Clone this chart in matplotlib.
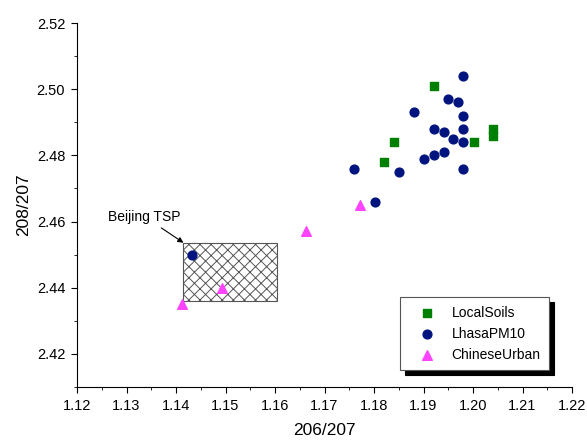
import numpy as np
import matplotlib
matplotlib.use('Agg')
import matplotlib.pyplot as plt
from matplotlib.patches import Rectangle
from matplotlib.ticker import MultipleLocator, FormatStrFormatter

plt.rcParams['font.family'] = ['Liberation Sans', 'DejaVu Sans']
plt.rcParams['hatch.color'] = '#555555'
plt.rcParams['hatch.linewidth'] = 0.7

# 206/207 vs 208/207 ratios
soils_x = [1.1921, 1.1840, 1.1820, 1.2001, 1.2040, 1.2040]
soils_y = [2.501, 2.484, 2.478, 2.484, 2.488, 2.486]

lhasa_x = [1.1980, 1.1950, 1.1970, 1.1881, 1.1980, 1.1921, 1.1941, 1.1980,
           1.1960, 1.1980, 1.1941, 1.1921, 1.1900, 1.1760, 1.1980, 1.1850,
           1.1801, 1.1432]
lhasa_y = [2.504, 2.497, 2.496, 2.493, 2.492, 2.488, 2.487, 2.488,
           2.485, 2.484, 2.481, 2.480, 2.479, 2.476, 2.476, 2.475,
           2.466, 2.450]

urban_x = [1.1771, 1.1663, 1.1492, 1.1412]
urban_y = [2.465, 2.457, 2.440, 2.435]

# Beijing TSP range
tsp_x = (1.1415, 1.1603)
tsp_y = (2.436, 2.4536)

fig = plt.figure(figsize=(5.87, 4.41), dpi=100)
ax = fig.add_axes([0.1312, 0.1224, 0.8433, 0.8254])

ax.add_patch(Rectangle((tsp_x[0], tsp_y[0]), tsp_x[1] - tsp_x[0], tsp_y[1] - tsp_y[0],
                       facecolor='white', edgecolor='#555555', hatch='xxx', lw=0.8, zorder=1))

ax.scatter(soils_x, soils_y, marker='s', s=26, color='#008000', label='LocalSoils', zorder=3)
ax.scatter(lhasa_x, lhasa_y, marker='o', s=40, color='#00147F', label='LhasaPM10', zorder=3)
ax.scatter(urban_x, urban_y, marker='^', s=48, color='#FF44FF', label='ChineseUrban', zorder=3)

ax.annotate('Beijing TSP', xy=(tsp_x[0], tsp_y[1]), xytext=(1.1263, 2.4615),
            fontsize=10, va='center',
            arrowprops=dict(arrowstyle='-|>', color='black', lw=0.8,
                            shrinkA=2, shrinkB=0, mutation_scale=8))

ax.set_xlim(1.12, 1.22)
ax.set_ylim(2.41, 2.52)
ax.xaxis.set_major_locator(MultipleLocator(0.01))
ax.xaxis.set_minor_locator(MultipleLocator(0.005))
ax.yaxis.set_major_locator(MultipleLocator(0.02))
ax.yaxis.set_minor_locator(MultipleLocator(0.01))
ax.xaxis.set_major_formatter(FormatStrFormatter('%.2f'))
ax.yaxis.set_major_formatter(FormatStrFormatter('%.2f'))
ax.tick_params(which='both', direction='out', labelsize=10.5, colors='black')
ax.tick_params(which='major', length=4.5, pad=4)
ax.tick_params(which='minor', length=2.5)
ax.spines['top'].set_visible(False)
ax.spines['right'].set_visible(False)

ax.set_xlabel('206/207', fontsize=12.5, labelpad=7)
ax.set_ylabel('208/207', fontsize=12.5, labelpad=4)

leg = ax.legend(loc='lower right', bbox_to_anchor=(0.9535, 0.0467), borderaxespad=0,
                fontsize=10, frameon=True, fancybox=False, edgecolor='#555555',
                shadow={'color': 'black', 'alpha': 1.0, 'ox': 3.6, 'oy': -3.6},
                borderpad=0.6, labelspacing=0.5, handletextpad=0.5, handlelength=2.6)
leg.get_frame().set_linewidth(0.8)

fig.savefig('out.png', dpi=100)
